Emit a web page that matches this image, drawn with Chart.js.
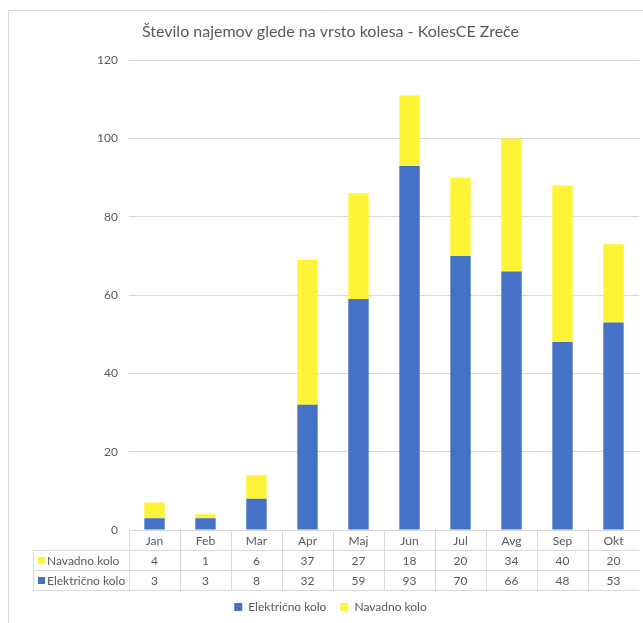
<!DOCTYPE html>
<html>
<head>
<meta charset="utf-8">
<script src="https://cdn.jsdelivr.net/npm/chart.js@4/dist/chart.umd.min.js"></script>
<style>
  html, body { margin: 0; padding: 0; background: #fff; overflow: hidden; }
  canvas { display: block; }
</style>
</head>
<body>
<canvas id="najemi" width="643" height="623"></canvas>
<script>
// podatki
const months = ["Jan", "Feb", "Mar", "Apr", "Maj", "Jun", "Jul", "Avg", "Sep", "Okt"];
const elektricno = [3, 3, 8, 32, 59, 93, 70, 66, 48, 53];
const navadno = [4, 1, 6, 37, 27, 18, 20, 34, 40, 20];
const yTicks = [0, 20, 40, 60, 80, 100, 120];

const BLUE = "#4472C4";
const YELLOW = "#FFF338";
const TEXT = "#595959";
const GRID = "#d9d9d9";
const FONT = "Lato";

// excelova tabela s podatki pod grafom + okvir
const dataTable = {
  id: "dataTable",
  beforeDraw(chart) {
    const ctx = chart.ctx;
    ctx.save();
    ctx.strokeStyle = GRID;
    ctx.lineWidth = 1;
    ctx.beginPath();
    ctx.moveTo(8.5, 623);
    ctx.lineTo(8.5, 10.5);
    ctx.lineTo(643, 10.5);
    ctx.stroke();
    ctx.restore();
  },
  afterDraw(chart) {
    const ctx = chart.ctx;
    const x = chart.scales.x;
    const top = chart.chartArea.bottom;
    const rowH = 20;
    const w = x.getPixelForValue(1) - x.getPixelForValue(0);
    const tableLeft = 33;
    const rows = [
      { label: "Navadno kolo", color: YELLOW, values: navadno },
      { label: "Električno kolo", color: BLUE, values: elektricno }
    ];

    ctx.save();
    ctx.strokeStyle = GRID;
    ctx.lineWidth = 1;
    ctx.beginPath();
    for (let r = 1; r <= 3; r++) {
      const y = Math.round(top + r * rowH) + 0.5;
      ctx.moveTo(tableLeft, y);
      ctx.lineTo(x.right, y);
    }
    for (let k = 0; k < months.length; k++) {
      const xx = Math.round(x.left + k * w) + 0.5;
      ctx.moveTo(xx, top);
      ctx.lineTo(xx, top + 3 * rowH);
    }
    ctx.moveTo(tableLeft + 0.5, top + rowH);
    ctx.lineTo(tableLeft + 0.5, top + 3 * rowH);
    ctx.stroke();

    ctx.font = "12px " + FONT;
    ctx.fillStyle = TEXT;
    ctx.textAlign = "center";
    ctx.textBaseline = "middle";
    months.forEach((m, i) => {
      ctx.fillText(m, x.getPixelForValue(i), top + rowH / 2 + 1);
    });
    rows.forEach((row, r) => {
      const cy = top + (r + 1) * rowH + rowH / 2 + 1;
      row.values.forEach((v, i) => {
        ctx.fillStyle = TEXT;
        ctx.textAlign = "center";
        ctx.fillText(String(v), x.getPixelForValue(i), cy);
      });
      ctx.fillStyle = row.color;
      ctx.fillRect(38, cy - 4, 7, 7);
      ctx.fillStyle = TEXT;
      ctx.textAlign = "left";
      ctx.fillText(row.label, 47, cy);
    });
    ctx.restore();
  }
};

new Chart(document.getElementById("najemi"), {
  type: "bar",
  data: {
    labels: months,
    datasets: [
      { label: "Električno kolo", data: elektricno, backgroundColor: BLUE, barPercentage: 0.4, categoryPercentage: 1 },
      { label: "Navadno kolo", data: navadno, backgroundColor: YELLOW, barPercentage: 0.4, categoryPercentage: 1 }
    ]
  },
  options: {
    responsive: false,
    animation: false,
    layout: { padding: { left: 22, right: 4, top: 0, bottom: 0 } },
    plugins: {
      title: {
        display: true,
        text: "Število najemov glede na vrsto kolesa - KolesCE Zreče",
        color: TEXT,
        font: { family: FONT, size: 16, weight: "normal" },
        padding: { top: 22, bottom: 19 }
      },
      legend: {
        position: "bottom",
        labels: {
          color: TEXT,
          font: { family: FONT, size: 12 },
          boxWidth: 8,
          boxHeight: 8,
          padding: 14
        }
      },
      tooltip: { enabled: false }
    },
    scales: {
      x: {
        stacked: true,
        grid: { display: false },
        border: { display: false },
        ticks: { display: false },
        afterFit(scale) { scale.height = 57; }
      },
      y: {
        stacked: true,
        min: 0,
        max: 120,
        afterBuildTicks(scale) { scale.ticks = yTicks.map(v => ({ value: v })); },
        grid: { color: GRID, drawTicks: false },
        border: { display: false },
        ticks: { color: TEXT, padding: 11, font: { family: FONT, size: 12 } },
        afterFit(scale) { scale.width = 107; }
      }
    }
  },
  plugins: [dataTable]
});
</script>
</body>
</html>
